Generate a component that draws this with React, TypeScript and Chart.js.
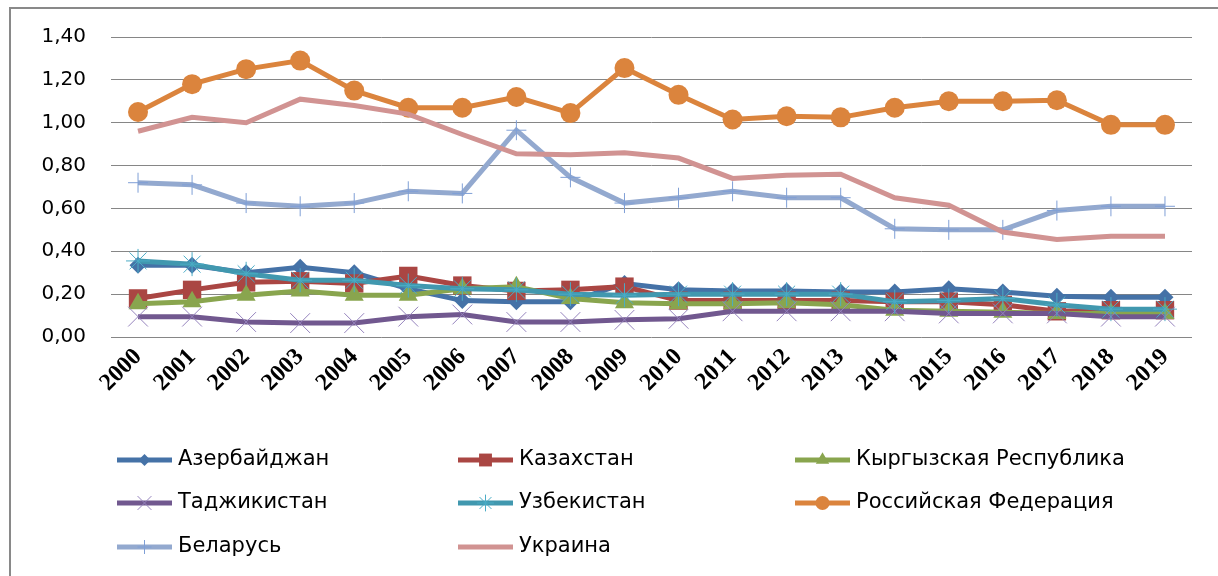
import React, { useEffect, useRef } from "react";
import { Chart, registerables } from "chart.js";
import { drawPoint } from "chart.js/helpers";

Chart.register(...registerables);

const years = ["2000","2001","2002","2003","2004","2005","2006","2007","2008","2009","2010","2011","2012","2013","2014","2015","2016","2017","2018","2019"];

const azerbaijan = [0.335, 0.335, 0.30, 0.325, 0.30, 0.225, 0.17, 0.165, 0.165, 0.25, 0.22, 0.215, 0.215, 0.21, 0.21, 0.225, 0.21, 0.19, 0.185, 0.185];
const kazakhstan = [0.18, 0.22, 0.255, 0.26, 0.25, 0.285, 0.24, 0.215, 0.22, 0.235, 0.17, 0.17, 0.17, 0.17, 0.165, 0.165, 0.15, 0.12, 0.125, 0.125];
const kyrgyzstan = [0.155, 0.165, 0.195, 0.215, 0.195, 0.195, 0.225, 0.235, 0.18, 0.16, 0.155, 0.155, 0.16, 0.15, 0.125, 0.12, 0.115, 0.11, 0.11, 0.11];
const tajikistan = [0.095, 0.095, 0.07, 0.065, 0.065, 0.095, 0.105, 0.07, 0.07, 0.08, 0.085, 0.12, 0.12, 0.12, 0.12, 0.11, 0.11, 0.11, 0.095, 0.095];
const uzbekistan = [0.355, 0.34, 0.295, 0.265, 0.265, 0.24, 0.225, 0.22, 0.2, 0.195, 0.2, 0.2, 0.2, 0.2, 0.165, 0.17, 0.18, 0.15, 0.13, 0.13];
const russia = [1.05, 1.18, 1.25, 1.29, 1.15, 1.07, 1.07, 1.12, 1.045, 1.255, 1.13, 1.015, 1.03, 1.025, 1.07, 1.10, 1.10, 1.105, 0.99, 0.99];
const belarus = [0.72, 0.71, 0.625, 0.61, 0.625, 0.68, 0.67, 0.965, 0.745, 0.625, 0.65, 0.68, 0.65, 0.65, 0.505, 0.50, 0.50, 0.59, 0.61, 0.61];
const ukraine = [0.96, 1.025, 1.00, 1.11, 1.08, 1.04, 0.945, 0.855, 0.85, 0.86, 0.835, 0.74, 0.755, 0.76, 0.65, 0.615, 0.49, 0.455, 0.47, 0.47];

const yTicks = [0, 0.2, 0.4, 0.6, 0.8, 1.0, 1.2, 1.4];

type SeriesDef = {
  label: string;
  data: number[];
  color: string;
  pointStyle: any;
  radius: number;
  markerColor: string;
  filled: boolean;
};

const series: SeriesDef[] = [
  { label: "Азербайджан", data: azerbaijan, color: "#4572A7", pointStyle: "rectRot", radius: 8.5, markerColor: "#4572A7", filled: true },
  { label: "Казахстан", data: kazakhstan, color: "#AA4643", pointStyle: "rect", radius: 13, markerColor: "#AA4643", filled: true },
  { label: "Кыргызская Республика", data: kyrgyzstan, color: "#89A54E", pointStyle: "triangle", radius: 11, markerColor: "#89A54E", filled: true },
  { label: "Таджикистан", data: tajikistan, color: "#71588F", pointStyle: "crossRot", radius: 14, markerColor: "#9583bd", filled: false },
  { label: "Узбекистан", data: uzbekistan, color: "#4198AF", pointStyle: "star", radius: 12, markerColor: "#4BACC6", filled: false },
  { label: "Российская Федерация", data: russia, color: "#DB843D", pointStyle: "circle", radius: 10, markerColor: "#DB843D", filled: true },
  { label: "Беларусь", data: belarus, color: "#93A9CF", pointStyle: "cross", radius: 10, markerColor: "#7f9fd6", filled: false },
  { label: "Украина", data: ukraine, color: "#D19392", pointStyle: false, radius: 0, markerColor: "#D19392", filled: false },
];

const legendCols = [117, 458, 795];
const legendRows = [460, 503, 547];

const legendPlugin = {
  id: "gridLegend",
  afterDraw(chart: any) {
    const ctx = chart.ctx;
    ctx.save();
    series.forEach((s, i) => {
      const col = i % 3;
      const row = Math.floor(i / 3);
      const x0 = legendCols[col];
      const y = legendRows[row];
      ctx.strokeStyle = s.color;
      ctx.lineWidth = 5;
      ctx.lineCap = "butt";
      ctx.beginPath();
      ctx.moveTo(x0, y);
      ctx.lineTo(x0 + 55, y);
      ctx.stroke();
      if (s.pointStyle) {
        ctx.fillStyle = s.markerColor;
        ctx.strokeStyle = s.markerColor;
        ctx.lineWidth = s.filled ? 0 : 1;
        drawPoint(ctx, { pointStyle: s.pointStyle, rotation: 0, radius: s.radius * 0.7, borderWidth: s.filled ? 0 : 1 }, x0 + 27.5, y);
      }
      ctx.fillStyle = "#000";
      ctx.font = "21px 'DejaVu Sans'";
      ctx.textAlign = "left";
      ctx.textBaseline = "middle";
      ctx.fillText(s.label, x0 + 61, y);
    });
    ctx.restore();
  },
};

export default function App() {
  const ref = useRef<HTMLCanvasElement | null>(null);
  useEffect(() => {
    if (!ref.current) return;
    const datasets = series.map((s, i) => ({
      label: s.label,
      data: s.data,
      borderColor: s.color,
      backgroundColor: s.color,
      borderWidth: 5,
      pointStyle: s.pointStyle,
      pointRadius: s.radius,
      pointBackgroundColor: s.filled ? s.markerColor : "rgba(0,0,0,0)",
      pointBorderColor: s.markerColor,
      pointBorderWidth: s.filled ? 0 : 1,
      tension: 0,
      fill: false,
      order: -i,
    }));
    const chart = new Chart(ref.current, {
      type: "line",
      data: { labels: years, datasets },
      options: {
        animation: false,
        responsive: false,
        maintainAspectRatio: false,
        layout: { padding: { left: 0, right: 26, top: 35, bottom: 0 } },
        plugins: { legend: { display: false }, tooltip: { enabled: false } },
        scales: {
          x: {
            offset: true,
            grid: { display: false, drawTicks: false },
            border: { display: false },
            ticks: {
              autoSkip: false,
              minRotation: 45,
              maxRotation: 45,
              padding: 6,
              color: "#000",
              font: { family: "'Liberation Serif'", size: 24, weight: "bold" },
            },
            afterFit: (s: any) => { s.height = 576 - 337; },
          },
          y: {
            min: 0,
            max: 1.4,
            afterBuildTicks: (s: any) => { s.ticks = yTicks.map((v) => ({ value: v })); },
            ticks: {
              padding: 25,
              color: "#000",
              font: { family: "'DejaVu Sans'", size: 20 },
              callback: (v: any) => Number(v).toFixed(2).replace(".", ","),
            },
            grid: { color: "#868686", lineWidth: 1, drawTicks: false },
            border: { display: false },
            afterFit: (s: any) => { s.width = 111; },
          },
        },
      },
      plugins: [legendPlugin],
    } as any);
    return () => chart.destroy();
  }, []);
  return (
    <div style={{ position: "fixed", left: 0, top: 0, width: 1218, height: 576, overflow: "hidden", background: "#fff" }}>
      <div style={{ position: "absolute", left: 9, top: 7, width: 1260, height: 620, border: "2px solid #898989", boxSizing: "border-box" }} />
      <canvas ref={ref} width={1218} height={576} style={{ position: "absolute", left: 0, top: 0, width: 1218, height: 576, display: "block" }} />
    </div>
  );
}
